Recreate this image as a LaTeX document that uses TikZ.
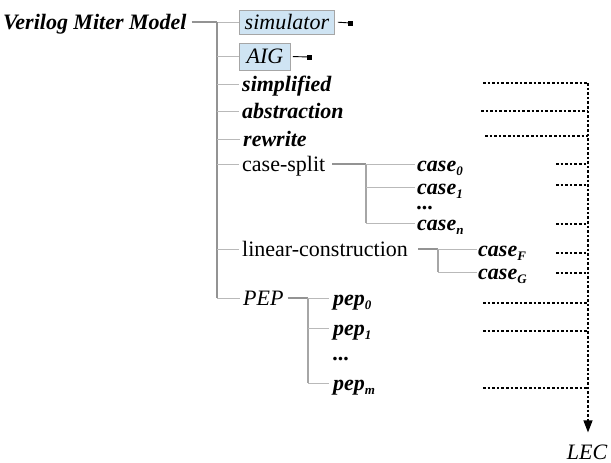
\documentclass[tikz,border=0pt]{standalone}
\usepackage{fontspec}
\setmainfont{Liberation Serif}
\usetikzlibrary{arrows.meta}
\definecolor{boxblue}{RGB}{207,228,243}
\newcommand\subx[1]{\raisebox{-4pt}{\fontsize{13}{14}\selectfont #1}}
\begin{document}
\begin{tikzpicture}[x=1pt,y=-1pt,
  every node/.style={inner sep=0pt, font=\fontsize{22}{26}\selectfont},
  bi/.style={font=\fontsize{22}{26}\selectfont\bfseries\itshape},
  it/.style={font=\fontsize{22}{26}\selectfont\itshape},
  lbl/.style={anchor=west, text height=16pt, text depth=2pt},
  dotsn/.style={anchor=base west, text height=3pt, text depth=0pt},
  trunk/.style={draw=gray!85, line width=1.6pt},
  subtrunk/.style={draw=gray!70, line width=1.1pt},
  branch/.style={draw=gray!55, line width=1pt},
  boxn/.style={draw=gray!70, fill=boxblue, line width=0.8pt, anchor=west, align=center},
  termln/.style={draw=black, line width=0.9pt},
  termsq/.style={fill=black, minimum size=5pt, inner sep=0pt},
  dotln/.style={draw=black, line width=1.2pt, dash pattern=on 2.6pt off 2pt}
]
\useasboundingbox (0,0) rectangle (611,463);

% nodes
\node[bi, lbl] (vmm) at (3,22) {Verilog Miter Model};
\node[boxn, it, minimum width=95pt, minimum height=24pt] (sim) at (239,22) {simulator};
\node[boxn, it, minimum width=51pt, minimum height=27pt] (aig) at (239,56.5) {AIG};
\node[termsq] (simT) at (350.5,23) {};
\node[termsq] (aigT) at (309.5,57) {};
\node[bi, lbl] (simp) at (242,84) {simplified};
\node[bi, lbl] (abst) at (242,111) {abstraction};
\node[bi, lbl] (rew) at (243,139) {rewrite};
\node[lbl] (cs) at (242,164) {case-split};
\node[bi, lbl] (c0) at (417,164) {case\subx{0}};
\node[bi, lbl] (c1) at (417,187) {case\subx{1}};
\node[bi, dotsn] (cd) at (417,209) {...};
\node[bi, lbl] (cn) at (417,223) {case\subx{n}};
\node[lbl] (lc) at (242,249) {linear-construction};
\node[bi, lbl] (cF) at (478,249) {case\subx{F}};
\node[bi, lbl] (cG) at (478,272) {case\subx{G}};
\node[it, lbl] (pep) at (243,298) {PEP};
\node[bi, lbl] (p0) at (333,298) {pep\subx{0}};
\node[bi, lbl] (p1) at (333,328) {pep\subx{1}};
\node[bi, dotsn] (pd) at (333,360) {...};
\node[bi, lbl] (pm) at (333,383) {pep\subx{m}};
\node[it] (lec) at (587,452) {LEC};

% main tree
\coordinate (t) at (217,22);
\draw[trunk, shorten <=5pt] (vmm.east) -- (t);
\draw[branch] (t) -- (sim.west);
\draw[trunk] (t) -- (t |- pep.west);
\foreach \n in {simp,abst,rew,cs,lc,pep}
  \draw[branch, shorten >=3pt] (t |- \n.west) -- (\n.west);
\draw[branch] (t |- aig.west) -- (aig.west);
\draw[termln, shorten <=3pt] (sim.east) -- (simT);
\draw[termln, shorten <=2pt] (aig.east) -- (aigT);

% case-split
\coordinate (cst) at (366,164);
\draw[trunk, shorten <=7pt] (cs.east) -- (cst);
\draw[subtrunk] (cst) -- (cst |- cn.west);
\foreach \n in {c0,c1,cn}
  \draw[branch, shorten >=2pt] (cst |- \n.west) -- (\n.west);

% linear-construction
\coordinate (lct) at (438,249);
\draw[trunk, shorten <=10pt] (lc.east) -- (lct);
\draw[subtrunk] (lct) -- (lct |- cG.west);
\foreach \n in {cF,cG}
  \draw[branch, shorten >=1pt] (lct |- \n.west) -- (\n.west);

% PEP
\coordinate (pt) at (308,298);
\draw[trunk, shorten <=4pt] (pep.east) -- (pt);
\draw[subtrunk] (pt) -- (pt |- pm.west);
\foreach \n in {p0,p1,pm}
  \draw[branch, shorten >=4pt] (pt |- \n.west) -- (\n.west);

% dotted collection to LEC
\coordinate (v0) at (588,83);
\coordinate (d1) at (483,83);
\coordinate (d2) at (481,111);
\coordinate (d3) at (485,136);
\coordinate (d4) at (556,164);
\coordinate (d5) at (556,185);
\coordinate (d6) at (556,224);
\coordinate (d7) at (556,253);
\coordinate (d8) at (556,273);
\coordinate (d9) at (483,303);
\coordinate (d10) at (483,331);
\coordinate (d11) at (483,388);
\foreach \d in {d1,d2,d3,d4,d5,d6,d7,d8,d9,d10,d11}
  \draw[dotln] (\d) -- (\d -| v0);
\draw[dotln, -{Triangle[width=9pt,length=12pt]}, shorten >=12pt] (v0) -- (v0 |- lec.north);
\end{tikzpicture}
\end{document}
